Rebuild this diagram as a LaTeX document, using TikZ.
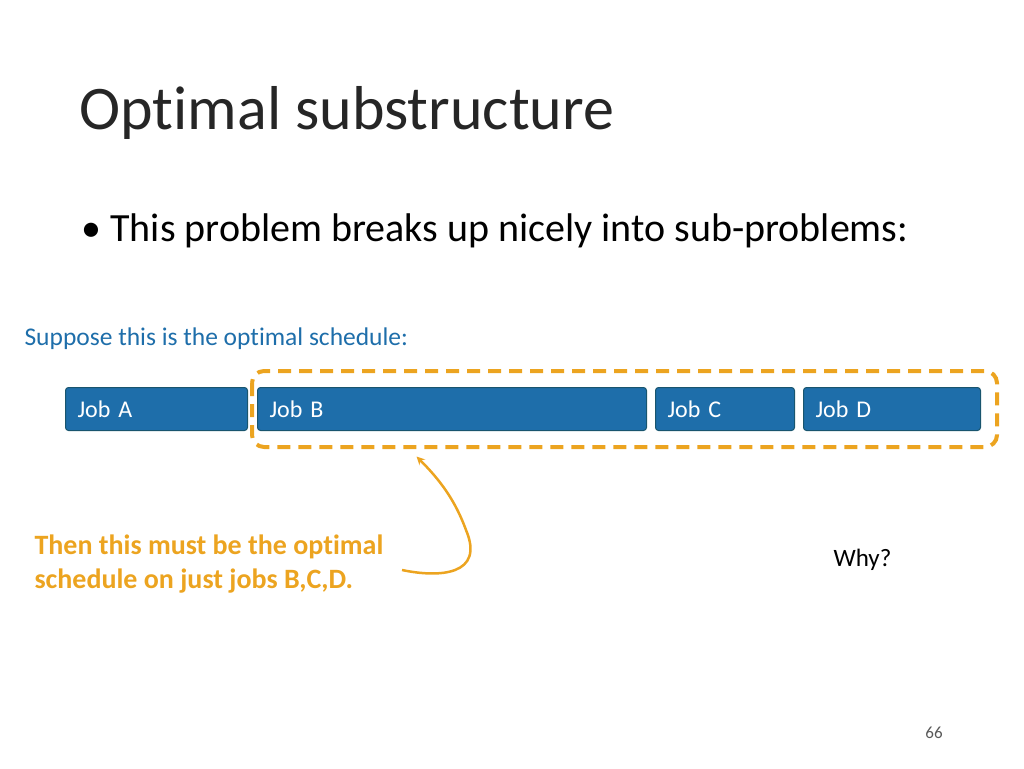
\documentclass[tikz,border=0pt]{standalone}
\usepackage{fontspec}
\setmainfont[Ligatures=NoCommon]{Carlito}
\usetikzlibrary{positioning}
\definecolor{jobblue}{RGB}{30,110,170}
\definecolor{jobedge}{RGB}{25,85,110}
\definecolor{hlorange}{RGB}{236,164,32}
\definecolor{notegrey}{RGB}{89,89,89}
\begin{document}
\begin{tikzpicture}[x=1pt,y=-1pt,
    job/.style={rectangle, rounded corners=3pt, draw=jobedge, line width=1pt, fill=jobblue,
      minimum height=43pt, text=white, anchor=north west, inner xsep=12pt,
      font=\fontsize{24}{28}\selectfont, align=left, text width=#1},
    arrow/.style={hlorange, line width=2.5pt, ->, >=stealth, shorten >=-2pt},
  ]
  \useasboundingbox (0,0) rectangle (1024,768);
  % title and bullet
  \node (title) [anchor=west, font=\fontsize{62}{68}\selectfont, text=black!85] at (76,113) {Optimal substructure};
  \node (bullet) [anchor=west, font=\fontsize{40}{46}\selectfont] at (78,231) {\textbullet\ This problem breaks up nicely into sub-problems:};
  \node (suppose) [anchor=west, text=jobblue, font=\fontsize{25.5}{30}\selectfont] at (21,339) {Suppose this is the optimal schedule:};
  % jobs
  \node (jobA) [job=158pt] at (65,387) {Job A};
  \node (jobB) [job=365pt] at (257,387) {Job B};
  \node (jobC) [job=115pt] at (655,387) {Job C};
  \node (jobD) [job=153pt] at (803,387) {Job D};
  % highlight around B,C,D
  \draw [hlorange, line width=4pt, dash pattern=on 13pt off 8pt, rounded corners=12pt] (252,371) rectangle (997,447);
  \coordinate (hlbottom) at (418,458);
  % note
  \node (note) [anchor=north west, align=left, text=hlorange, font=\bfseries\fontsize{28}{34}\selectfont] at (31,531) {Then this must be the optimal\\schedule on just jobs B,C,D.};
  \coordinate (tail) at (402,570);
  \draw [arrow] (tail) .. controls (440,578) and (485,575) .. (466,530) .. controls (455,500) and (440,480) .. (hlbottom);
  \node (why) [anchor=west, font=\fontsize{25}{30}\selectfont] at (830,560) {Why?};
  \node (page) [text=notegrey, font=\fontsize{17}{20}\selectfont] at (934,733) {66};
\end{tikzpicture}
\end{document}
